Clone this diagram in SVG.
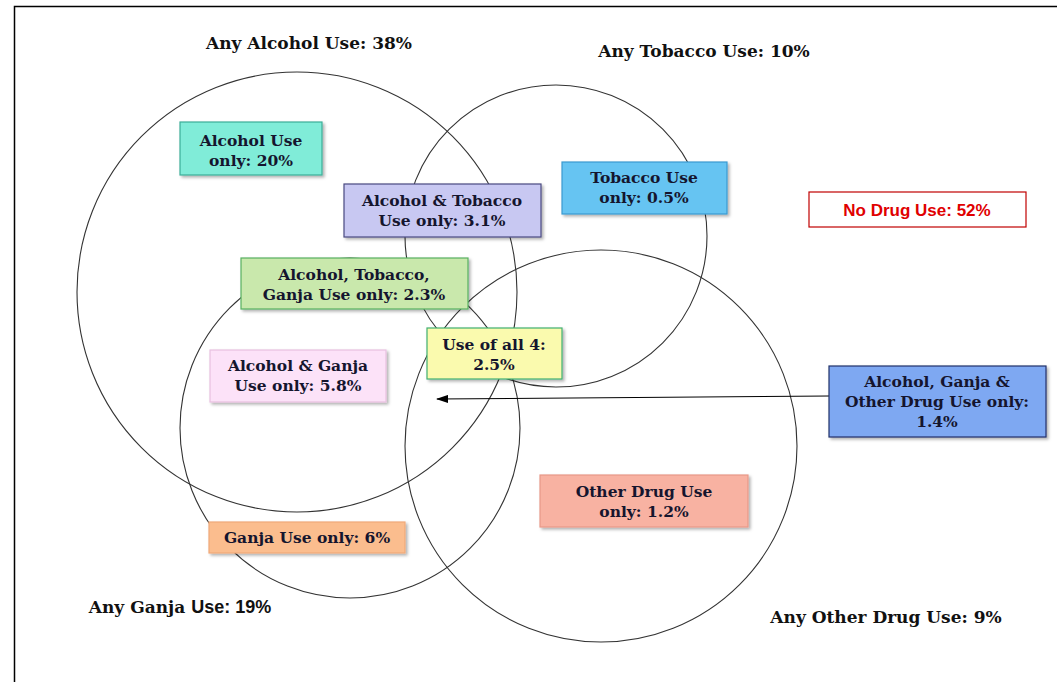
<svg xmlns="http://www.w3.org/2000/svg" width="1057" height="682" viewBox="0 0 1057 682">
<defs>
<filter id="sh" x="-10%" y="-10%" width="130%" height="140%">
<feDropShadow dx="2" dy="2" stdDeviation="1.5" flood-color="#000" flood-opacity="0.3"/>
</filter>
<marker id="ah" markerWidth="12" markerHeight="8" refX="11" refY="4" orient="auto" markerUnits="userSpaceOnUse">
<path d="M0,0 L12,4 L0,8 Z" fill="#000"/>
</marker>
</defs>
<style>
.c{fill:none;stroke:#333;stroke-width:1.1}
.b{filter:url(#sh);stroke-width:1.2}
.t{font-family:"DejaVu Serif","Liberation Serif",serif;font-weight:bold;font-size:15.5px;fill:#15152e;text-anchor:middle}
.h{font-family:"DejaVu Serif","Liberation Serif",serif;font-weight:bold;font-size:17px;fill:#111;text-anchor:middle}
.a{font-family:"Liberation Sans",Arial,sans-serif;font-weight:bold}
</style>
<rect x="0" y="0" width="1057" height="682" fill="#fff"/>
<path d="M14.5,682 V6.5 H1057" fill="none" stroke="#000" stroke-width="1.5"/>

<g id="circles">
<circle class="c" cx="297" cy="292" r="220"/>
<circle class="c" cx="556" cy="236" r="151"/>
<circle class="c" cx="350" cy="428" r="170"/>
<circle class="c" cx="601" cy="446" r="196"/>
</g>

<g id="labels">
<text class="h" x="309" y="49">Any Alcohol Use: 38%</text>
<text class="h" x="704" y="57">Any Tobacco Use: 10%</text>
<text class="h" x="180" y="613">Any Ganja <tspan class="a" font-size="18">Use: 19%</tspan></text>
<text class="h" x="886" y="623">Any Other Drug Use: 9%</text>
</g>

<g id="connectors">
<line x1="829" y1="396" x2="437" y2="399" stroke="#000" stroke-width="1.1" marker-end="url(#ah)"/>
</g>

<g id="alcohol-only">
<rect class="b" x="180" y="122" width="142" height="53" fill="#80ecd8" stroke="#3cae98"/>
<text class="t" x="251" y="146">Alcohol Use</text>
<text class="t" x="251" y="166">only: 20%</text>
</g>
<g id="alcohol-tobacco">
<rect class="b" x="344" y="184" width="197" height="53" fill="#c8c8f2" stroke="#4a4a80"/>
<text class="t" x="442" y="206">Alcohol &amp; Tobacco</text>
<text class="t" x="442" y="226">Use only: 3.1%</text>
</g>
<g id="tobacco-only">
<rect class="b" x="562" y="162" width="165" height="52" fill="#66c4f2" stroke="#3a9ad0"/>
<text class="t" x="644" y="183">Tobacco Use</text>
<text class="t" x="644" y="203">only: 0.5%</text>
</g>
<g id="no-drug">
<rect x="809" y="192" width="217" height="35" fill="#fff" stroke="#c00000" stroke-width="1.2"/>
<text class="a" x="917" y="216" font-size="17" fill="#e00000" text-anchor="middle">No Drug Use: 52%</text>
</g>
<g id="alcohol-tobacco-ganja">
<rect class="b" x="241" y="258" width="227" height="51" fill="#c9e8ac" stroke="#58b060"/>
<text class="t" x="354" y="280">Alcohol, Tobacco,</text>
<text class="t" x="354" y="300">Ganja Use only: 2.3%</text>
</g>
<g id="all-four">
<rect class="b" x="427" y="328" width="135" height="51" fill="#fafaae" stroke="#40b070"/>
<text class="t" x="494" y="350">Use of all 4:</text>
<text class="t" x="494" y="370">2.5%</text>
</g>
<g id="alcohol-ganja">
<rect class="b" x="210" y="350" width="176" height="52" fill="#fce2f8" stroke="#e8c0e0"/>
<text class="t" x="298" y="371">Alcohol &amp; Ganja</text>
<text class="t" x="298" y="391">Use only: 5.8%</text>
</g>
<g id="alcohol-ganja-other">
<rect class="b" x="829" y="366" width="217" height="71" fill="#7ea8f2" stroke="#22306a"/>
<text class="t" x="937" y="387">Alcohol, Ganja &amp;</text>
<text class="t" x="937" y="407">Other Drug Use only:</text>
<text class="t" x="937" y="427">1.4%</text>
</g>
<g id="other-only">
<rect class="b" x="540" y="475" width="208" height="52" fill="#f8b2a2" stroke="#e89888"/>
<text class="t" x="644" y="497">Other Drug Use</text>
<text class="t" x="644" y="517">only: 1.2%</text>
</g>
<g id="ganja-only">
<rect class="b" x="209" y="522" width="196" height="31" fill="#fbbd8e" stroke="#f0a878"/>
<text class="t" x="307" y="543">Ganja Use only: 6%</text>
</g>
</svg>
